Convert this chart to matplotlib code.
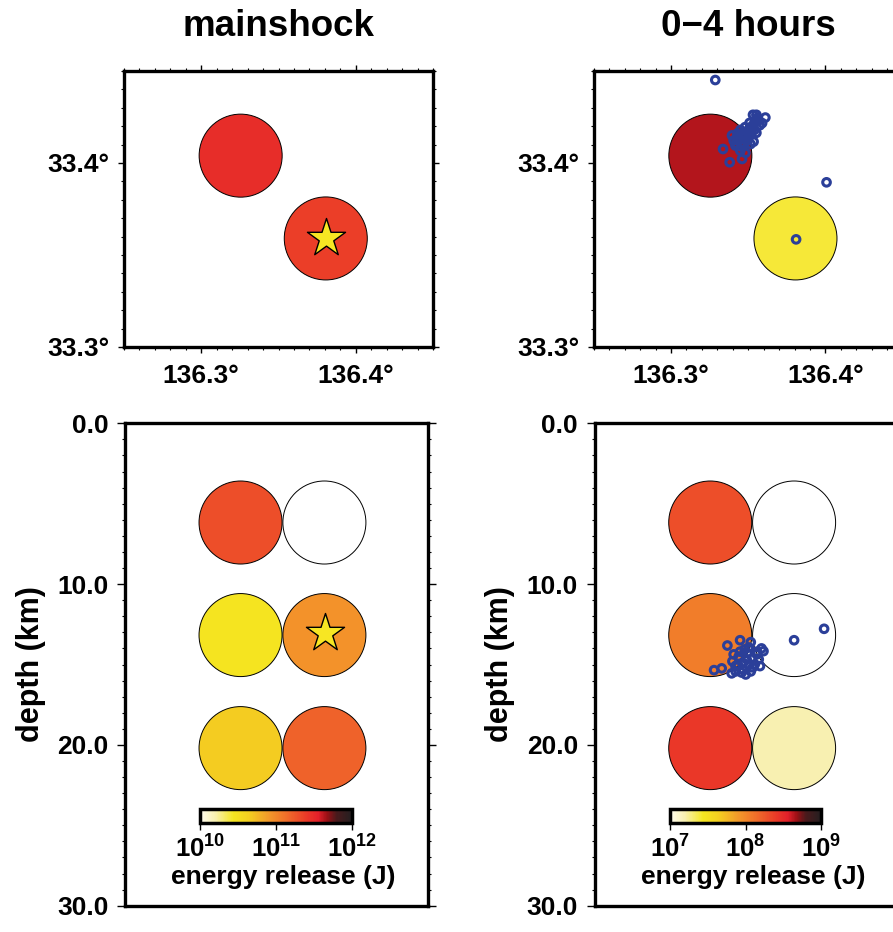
import numpy as np
import matplotlib
matplotlib.use("Agg")
import matplotlib.pyplot as plt
from matplotlib.colors import LinearSegmentedColormap, LogNorm
from matplotlib.ticker import MultipleLocator, NullLocator, FuncFormatter

plt.rcParams['font.family'] = ['Liberation Sans', 'DejaVu Sans']
plt.rcParams['font.weight'] = 'bold'
plt.rcParams['mathtext.fontset'] = 'custom'
plt.rcParams['mathtext.rm'] = 'Liberation Sans:bold'
plt.rcParams['mathtext.bf'] = 'Liberation Sans:bold'
plt.rcParams['mathtext.it'] = 'Liberation Sans:bold'

# grid cell centres
cell_lon = [136.3255, 136.3806]
cell_lat = [33.404, 33.359]
sec_lon = [136.3255, 136.3803, 136.3255, 136.3803, 136.3255, 136.3803]
sec_dep = [6.17, 6.17, 13.17, 13.17, 20.2, 20.2]

# log10 energy release (J), nan = no event
main_map_logE = [11.48, 11.38]
main_sec_logE = [11.30, np.nan, 10.46, 10.94, 10.66, 11.20]
early_map_logE = [8.64, 7.40]
early_sec_logE = [8.30, np.nan, 8.06, np.nan, 8.42, 7.20]

# mainshock
ms_lon, ms_lat, ms_dep = 136.381, 33.359, 13.04

# aftershocks 0-4 hours
as_lon = [136.3287, 136.4007, 136.3810, 136.3531, 136.3553, 136.3611, 136.3590,
          136.3509, 136.3553, 136.3535, 136.3493, 136.3460, 136.3428, 136.3406,
          136.3417, 136.3449, 136.3482, 136.3337, 136.3380, 136.3460, 136.3471,
          136.3503, 136.3525, 136.3568, 136.3438, 136.3515, 136.3395, 136.3450,
          136.3480, 136.3420, 136.3445, 136.3465, 136.3490, 136.3510, 136.3530,
          136.3545, 136.3560, 136.3470, 136.3500, 136.3455, 136.3430, 136.3520,
          136.3540, 136.3575]
as_lat = [33.4451, 33.3895, 33.3585, 33.4262, 33.4262, 33.4247, 33.4217,
          33.4218, 33.4164, 33.4116, 33.4122, 33.4158, 33.4140, 33.4122,
          33.4095, 33.4067, 33.4055, 33.4076, 33.4004, 33.4022, 33.4095,
          33.4149, 33.4185, 33.4231, 33.4122, 33.4103, 33.4150, 33.4180,
          33.4195, 33.4105, 33.4130, 33.4140, 33.4170, 33.4190, 33.4205,
          33.4225, 33.4245, 33.4110, 33.4130, 33.4090, 33.4160, 33.4160,
          33.4180, 33.4205]
as_sec_lon = [136.3280, 136.3330, 136.3367, 136.3450, 136.3520, 136.3603, 136.3803,
              136.3999, 136.3408, 136.3435, 136.3467, 136.3493, 136.3520, 136.3546,
              136.3559, 136.3480, 136.3441, 136.3507, 136.3533, 136.3421, 136.3487,
              136.3572, 136.3400, 136.3450, 136.3500, 136.3470, 136.3530, 136.3420,
              136.3510, 136.3460, 136.3560, 136.3580, 136.3590, 136.3395]
as_sec_dep = [15.35, 15.24, 13.82, 13.49, 13.61, 14.17, 13.49,
              12.78, 14.37, 14.99, 15.30, 14.68, 15.43, 14.99,
              14.37, 14.06, 14.50, 13.94, 15.18, 15.43, 15.62,
              14.68, 14.80, 14.20, 14.30, 14.90, 14.60, 15.10,
              15.00, 15.50, 14.20, 15.10, 14.00, 15.55]

cmap = LinearSegmentedColormap.from_list("energy", [
    (0.00, "#fffdf0"), (0.10, "#f8f0b0"), (0.22, "#f5e620"), (0.32, "#f4d020"),
    (0.45, "#f39a2a"), (0.58, "#f06a2a"), (0.70, "#eb3a28"), (0.78, "#e3202a"),
    (0.84, "#9a1015"), (0.90, "#4a1a1c"), (1.00, "#231f20")])
cmap.set_bad("white")

W, H = 893, 932
fig = plt.figure(figsize=(W / 100, H / 100), dpi=100)

CIRC = 3573
STAR = 830
RING = 30
ring_col = "#2b3f99"


def style(ax):
    for s in ax.spines.values():
        s.set_linewidth(2.4)
    ax.tick_params(which="major", direction="out", length=4.3, width=1, labelsize=19)
    ax.tick_params(which="minor", direction="out", length=2.5, width=0.8)


def fig_ax(x0, y0, x1, y1):
    return fig.add_axes([x0 / W, 1 - y1 / H, (x1 - x0) / W, (y1 - y0) / H])


cols = [
    ("mainshock", 124, main_map_logE, main_sec_logE, (10, 12), False),
    ("0\u22124 hours", 593.7, early_map_logE, early_sec_logE, (7, 9), True),
]

for title, x0, map_logE, sec_logE, (e0, e1), early in cols:
    norm = LogNorm(10.0 ** e0, 10.0 ** e1)

    # map view
    ax = fig_ax(x0, 71, x0 + 309, 347)
    ax.scatter(cell_lon, cell_lat, s=CIRC, c=10.0 ** np.array(map_logE), cmap=cmap,
               norm=norm, edgecolors="black", linewidths=0.7, zorder=2)
    if early:
        ax.scatter(as_lon, as_lat, s=RING, facecolors="none", edgecolors=ring_col,
                   linewidths=2.2, zorder=3)
    else:
        ax.scatter([ms_lon], [ms_lat], marker="*", s=STAR, c="#f7e623",
                   edgecolors="black", linewidths=1, zorder=3)
    ax.set_xlim(136.25, 136.45)
    ax.set_ylim(33.3, 33.45)
    ax.xaxis.set_major_locator(MultipleLocator(0.1))
    ax.xaxis.set_minor_locator(MultipleLocator(0.01))
    ax.yaxis.set_major_locator(MultipleLocator(0.1))
    ax.yaxis.set_minor_locator(MultipleLocator(0.01))
    ax.xaxis.set_major_formatter(FuncFormatter(lambda v, p: "%.1f°" % v))
    ax.yaxis.set_major_formatter(FuncFormatter(lambda v, p: "%.1f°" % v))
    style(ax)
    ax.tick_params(which="both", top=True, right=True)
    ax.tick_params(axis="x", pad=8)
    ax.tick_params(axis="y", pad=6)
    fig.text((x0 + 154.5) / W, 1 - 27 / H, title, ha="center", va="center",
             fontsize=26.5, fontweight="bold")

    # depth section
    bx = fig_ax(x0 + 1, 423.3, x0 + 304, 905.7)
    bx.scatter(sec_lon, sec_dep, s=CIRC, c=10.0 ** np.array(sec_logE), cmap=cmap,
               norm=norm, edgecolors="black", linewidths=0.7, zorder=2,
               plotnonfinite=True)
    if early:
        bx.scatter(as_sec_lon, as_sec_dep, s=RING, facecolors="none", edgecolors=ring_col,
                   linewidths=2.2, zorder=3)
    else:
        bx.scatter([ms_lon], [ms_dep], marker="*", s=STAR, c="#f7e623",
                   edgecolors="black", linewidths=1, zorder=3)
    bx.set_xlim(136.25, 136.448)
    bx.set_ylim(30, 0)
    bx.set_xticks([])
    bx.yaxis.set_major_locator(MultipleLocator(10))
    bx.yaxis.set_minor_locator(MultipleLocator(1))
    bx.yaxis.set_major_formatter(FuncFormatter(lambda v, p: "%.1f" % v))
    style(bx)
    bx.tick_params(axis="y", which="both", right=True)
    bx.tick_params(axis="y", which="major", length=6, pad=6)
    bx.set_ylabel("depth (km)", fontsize=22, fontweight="bold")
    bx.yaxis.set_label_coords(-0.262, 0.5)

    # colour bar
    cx = fig_ax(x0 + 76, 809.3, x0 + 227.7, 823.3)
    sm = plt.cm.ScalarMappable(norm=norm, cmap=cmap)
    cb = fig.colorbar(sm, cax=cx, orientation="horizontal")
    cb.outline.set_linewidth(2.5)
    cx.xaxis.set_minor_locator(NullLocator())
    cx.tick_params(which="major", direction="out", length=5, width=1, labelsize=18.5, pad=4)
    fig.text((x0 + 159.5) / W, 1 - 877 / H, "energy release (J)", ha="center",
             va="center", fontsize=19, fontweight="bold")

fig.savefig("out.png", dpi=100)
